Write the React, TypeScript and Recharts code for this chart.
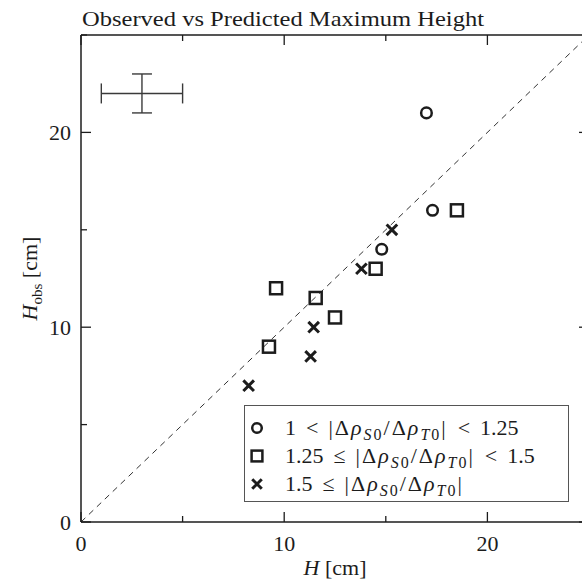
import { ScatterChart, Scatter, XAxis, YAxis, ReferenceLine, ErrorBar, Legend } from 'recharts';

const FONT = '"Liberation Serif", "Times New Roman", serif';
const INK = '#1c1c1c';

// predicted height H vs observed H_obs, grouped by |Δρ_S0/Δρ_T0|
const lowH = [17, 17.3, 14.8];
const lowObs = [21, 16, 14];
const midH = [18.5, 14.5, 9.6, 11.55, 12.5, 9.25];
const midObs = [16, 13, 12, 11.5, 10.5, 9];
const highH = [15.3, 13.8, 11.45, 11.3, 8.25];
const highObs = [15, 13, 10, 8.5, 7];

// typical measurement uncertainty, drawn once in the corner
const errH = [3];
const errObs = [22];
const errSpanH = [2];
const errSpanObs = [1];

const axisTicks = [0, 5, 10, 15, 20, 25];
const labelledTicks = [0, 10, 20];

const legendRows = [
  { kind: 'circle', lo: '1', loRel: '<', hiRel: '<', hi: '1.25' },
  { kind: 'square', lo: '1.25', loRel: '≤', hiRel: '<', hi: '1.5' },
  { kind: 'cross', lo: '1.5', loRel: '≤', hiRel: '', hi: '' },
];

const toPoints = (hs: number[], obs: number[]) => hs.map((h, i) => ({ h, obs: obs[i] }));

const lowData = toPoints(lowH, lowObs);
const midData = toPoints(midH, midObs);
const highData = toPoints(highH, highObs);
const errData = errH.map((h, i) => ({ h, obs: errObs[i], eh: errSpanH[i], eo: errSpanObs[i] }));

function Marker({ kind, cx, cy, s = 1 }: { kind: string; cx: number; cy: number; s?: number }) {
  if (kind === 'circle') {
    return <circle cx={cx} cy={cy} r={5.3 * s} fill="none" stroke={INK} strokeWidth={2.5} />;
  }
  if (kind === 'square') {
    const h = 6 * s;
    return <rect x={cx - h} y={cy - h} width={2 * h} height={2 * h} fill="none" stroke={INK} strokeWidth={2.5} />;
  }
  const d = 5.3 * s;
  return (
    <path
      d={`M${cx - d},${cy - d}L${cx + d},${cy + d}M${cx + d},${cy - d}L${cx - d},${cy + d}`}
      stroke={INK}
      strokeWidth={3}
      fill="none"
    />
  );
}

const isMajor = (v: number) => labelledTicks.includes(v);

function BottomTick({ x, y, payload }: any) {
  const major = isMajor(payload.value);
  return (
    <g>
      <line x1={x} x2={x} y1={y} y2={y - (major ? 10 : 6)} stroke={INK} strokeWidth={1.3} />
      {major && (
        <text x={x} y={y + 29} textAnchor="middle" fontFamily={FONT} fontSize={22} fill={INK}>
          {payload.value}
        </text>
      )}
    </g>
  );
}

function TopTick({ x, y, payload }: any) {
  const major = isMajor(payload.value);
  return <line x1={x} x2={x} y1={y} y2={y + (major ? 10 : 6)} stroke={INK} strokeWidth={1.3} />;
}

function LeftTick({ x, y, payload }: any) {
  const major = isMajor(payload.value);
  return (
    <g>
      <line x1={x} x2={x + (major ? 10 : 6)} y1={y} y2={y} stroke={INK} strokeWidth={1.3} />
      {major && (
        <text x={x - 10} y={y + 8} textAnchor="end" fontFamily={FONT} fontSize={22} fill={INK}>
          {payload.value}
        </text>
      )}
    </g>
  );
}

function RightTick({ x, y, payload }: any) {
  const major = isMajor(payload.value);
  return <line x1={x} x2={x - (major ? 10 : 6)} y1={y} y2={y} stroke={INK} strokeWidth={1.3} />;
}

function XLabel({ viewBox }: any) {
  const cx = viewBox.x + viewBox.width / 2;
  return (
    <text x={cx} y={viewBox.y + 53} textAnchor="middle" fontFamily={FONT} fontSize={22} fill={INK}>
      <tspan fontStyle="italic">H</tspan>
      <tspan> [cm]</tspan>
    </text>
  );
}

function YLabel({ viewBox }: any) {
  const cy = viewBox.y + viewBox.height / 2;
  return (
    <text transform={`translate(37, ${cy}) rotate(-90)`} textAnchor="middle" fontFamily={FONT} fontSize={22} fill={INK}>
      <tspan fontStyle="italic">H</tspan>
      <tspan dy={5} fontSize={15}>obs</tspan>
      <tspan dy={-5}> [cm]</tspan>
    </text>
  );
}

function Title({ viewBox }: any) {
  return (
    <text
      x={82}
      y={viewBox.y - 8}
      fontFamily={FONT}
      fontSize={22}
      fill={INK}
      textLength={402}
      lengthAdjust="spacingAndGlyphs"
    >
      Observed vs Predicted Maximum Height
    </text>
  );
}

const subStyle = { fontSize: 16, verticalAlign: '-5px', lineHeight: 0 };
const relStyle = { margin: '0 10px' };

function Ratio() {
  return (
    <span style={{ letterSpacing: 2 }}>
      |Δ<i>ρ</i>
      <span style={subStyle}>
        <i>S</i>0
      </span>
      /Δ<i>ρ</i>
      <span style={subStyle}>
        <i>T</i>0
      </span>
      |
    </span>
  );
}

function LegendBox() {
  return (
    <div
      style={{
        boxSizing: 'border-box',
        width: 325,
        height: 97,
        border: '1px solid #555',
        background: '#fff',
        paddingTop: 8,
        fontFamily: FONT,
        fontSize: 22,
        color: INK,
      }}
    >
      {legendRows.map((row) => (
        <div key={row.kind} style={{ display: 'flex', alignItems: 'center', height: 28 }}>
          <svg width={40} height={28} style={{ flex: 'none' }}>
            <Marker kind={row.kind} cx={12} cy={14} s={0.9} />
          </svg>
          <span style={{ whiteSpace: 'nowrap', lineHeight: '28px' }}>
            {row.lo}
            <span style={relStyle}>{row.loRel}</span>
            <Ratio />
            {row.hiRel && <span style={relStyle}>{row.hiRel}</span>}
            {row.hi}
          </span>
        </div>
      ))}
    </div>
  );
}

export default function App() {
  return (
    <div
      style={{
        position: 'absolute',
        left: 0,
        top: 0,
        width: 582,
        height: 583,
        overflow: 'hidden',
        background: '#fff',
      }}
    >
      <ScatterChart width={600} height={583} margin={{ top: 34, right: 10, bottom: 0, left: 0 }}>
        <XAxis
          xAxisId="b"
          type="number"
          dataKey="h"
          domain={[0, 25]}
          ticks={axisTicks}
          allowDataOverflow
          height={61}
          tickSize={0}
          tickMargin={0}
          tickLine={false}
          tick={<BottomTick />}
          axisLine={{ stroke: INK, strokeWidth: 1.5 }}
          label={<XLabel />}
        />
        <XAxis
          xAxisId="t"
          orientation="top"
          type="number"
          dataKey="h"
          domain={[0, 25]}
          ticks={axisTicks}
          allowDataOverflow
          height={1}
          tickSize={0}
          tickMargin={0}
          tickLine={false}
          tick={<TopTick />}
          axisLine={{ stroke: INK, strokeWidth: 1.5 }}
          label={<Title />}
        />
        <YAxis
          yAxisId="l"
          type="number"
          dataKey="obs"
          domain={[0, 25]}
          ticks={axisTicks}
          allowDataOverflow
          width={81}
          tickSize={0}
          tickMargin={0}
          tickLine={false}
          tick={<LeftTick />}
          axisLine={{ stroke: INK, strokeWidth: 1.5 }}
          label={<YLabel />}
        />
        <YAxis
          yAxisId="r"
          orientation="right"
          type="number"
          dataKey="obs"
          domain={[0, 25]}
          ticks={axisTicks}
          allowDataOverflow
          width={1}
          tickSize={0}
          tickMargin={0}
          tickLine={false}
          tick={<RightTick />}
          axisLine={{ stroke: INK, strokeWidth: 1.5 }}
        />
        <ReferenceLine
          xAxisId="b"
          yAxisId="l"
          segment={[
            { x: 0, y: 0 },
            { x: 25, y: 25 },
          ]}
          stroke="#333"
          strokeWidth={1}
          strokeDasharray="6 5"
        />
        <Scatter
          xAxisId="t"
          yAxisId="r"
          data={errData}
          isAnimationActive={false}
          legendType="none"
          shape={() => <g />}
        >
          <ErrorBar dataKey="eh" direction="x" width={10} stroke="#3a3a3a" strokeWidth={1.4} isAnimationActive={false} />
          <ErrorBar dataKey="eo" direction="y" width={10} stroke="#3a3a3a" strokeWidth={1.4} isAnimationActive={false} />
        </Scatter>
        <Scatter
          xAxisId="b"
          yAxisId="l"
          name="low"
          data={lowData}
          isAnimationActive={false}
          shape={(p: any) => <Marker kind="circle" cx={p.cx} cy={p.cy} />}
        />
        <Scatter
          xAxisId="b"
          yAxisId="l"
          name="mid"
          data={midData}
          isAnimationActive={false}
          shape={(p: any) => <Marker kind="square" cx={p.cx} cy={p.cy} />}
        />
        <Scatter
          xAxisId="b"
          yAxisId="l"
          name="high"
          data={highData}
          isAnimationActive={false}
          shape={(p: any) => <Marker kind="cross" cx={p.cx} cy={p.cy} />}
        />
        <Legend
          layout="vertical"
          align="center"
          verticalAlign="middle"
          wrapperStyle={{ left: 244, top: 405, width: 325, height: 97 }}
          content={<LegendBox />}
        />
      </ScatterChart>
    </div>
  );
}
